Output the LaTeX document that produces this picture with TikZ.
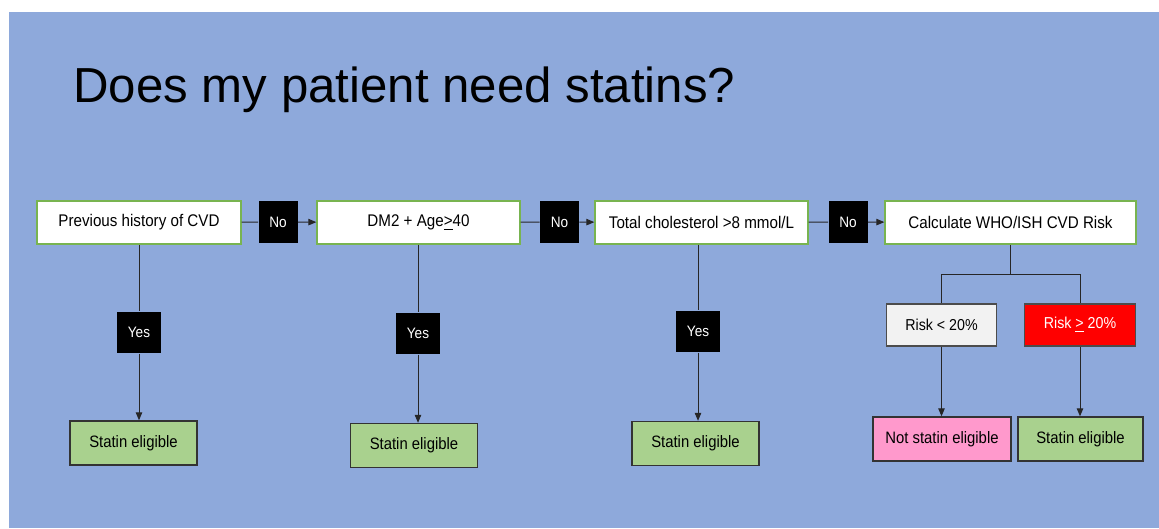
\documentclass[tikz,border=0pt]{standalone}
\usepackage{fontspec}
\setmainfont{Liberation Sans}
\newfontfamily\narrowfont{Liberation Sans}[FakeStretch=0.9]
\usetikzlibrary{arrows.meta}
\definecolor{slideblue}{RGB}{142,169,219}
\definecolor{edgegreen}{RGB}{120,180,80}
\definecolor{leafgreen}{RGB}{169,209,142}
\definecolor{softpink}{RGB}{255,153,204}
\definecolor{alarmred}{RGB}{255,0,0}

\begin{document}
\begin{tikzpicture}[x=0.02cm, y=-0.02cm]
    \tikzset{
      box/.style={
        rectangle, draw=edgegreen, fill=white, line width=0.8pt,
        minimum height=0.86cm, inner sep=2pt,
        font=\narrowfont\fontsize{9.6}{11}\selectfont
      },
      answer/.style={
        rectangle, fill=black, text=white,
        minimum width=0.78cm, minimum height=0.83cm, inner sep=1pt,
        font=\narrowfont\fontsize{8.6}{10}\selectfont
      },
      result/.style={
        rectangle, draw=black!80, fill=leafgreen, line width=0.8pt,
        minimum width=2.54cm, minimum height=0.88cm, inner sep=2pt,
        font=\narrowfont\fontsize{9.4}{11}\selectfont
      },
      risk/.style={
        rectangle, draw=black!70, line width=0.8pt,
        minimum width=2.21cm, minimum height=0.84cm, inner sep=2pt,
        font=\narrowfont\fontsize{9}{11}\selectfont
      },
      link/.style={draw=black!85, line width=0.55pt},
      arrow/.style={link, -{Triangle[length=1.6mm,width=1.3mm]}}
    }

    % Slide
    \useasboundingbox (0,0) rectangle (1159,528);
    \fill[white] (0,0) rectangle (1159,528);
    \fill[slideblue] (9,12) rectangle (1159,528);
    \node[anchor=base west, inner sep=0pt, font=\fontsize{28}{32}\selectfont] (title) at (73,102) {Does my patient need statins?};

    % Row 1
    \node[box, minimum width=4.08cm] (b1) at (139,222.5) {Previous history of CVD};
    \node[answer] (n1) at (278,222) {No};
    \node[box, minimum width=4.06cm] (b2) at (418.5,222.5) {DM2 + Age\underline{>}40};
    \node[answer] (n2) at (559.5,222) {No};
    \node[box, minimum width=4.26cm] (b3) at (701.5,222.5) {Total cholesterol >8 mmol/L};
    \node[answer] (n3) at (848,222) {No};
    \node[box, minimum width=5.02cm] (b4) at (1010.5,222.5) {Calculate WHO/ISH CVD Risk};

    % Yes branches
    \node[answer, minimum width=0.88cm] (y1) at (139,332.5) {Yes};
    \node[answer, minimum width=0.88cm] (y2) at (418,333.5) {Yes};
    \node[answer, minimum width=0.88cm] (y3) at (698,331.5) {Yes};

    % Row 3
    \node[result] (e1) at (133.5,443) {Statin eligible};
    \node[result] (e2) at (414,445.5) {Statin eligible};
    \node[result] (e3) at (695.5,443.5) {Statin eligible};

    % Risk split
    \node[risk, fill=black!5] (r1) at (941.5,325) {Risk < 20\%};
    \node[risk, fill=alarmred, text=white] (r2) at (1080,325) {Risk \underline{>} 20\%};
    \node[result, fill=softpink, minimum width=2.76cm] (e4) at (942,439) {Not statin eligible};
    \node[result, minimum width=2.5cm] (e5) at (1080.5,439) {Statin eligible};
    \coordinate (split) at (1010.5,274);

    % Connectors
    \draw[link] (b1) -- (n1);
    \draw[arrow] (n1) -- (b2);
    \draw[link] (b2) -- (n2);
    \draw[arrow] (n2) -- (b3);
    \draw[link] (b3) -- (n3);
    \draw[arrow] (n3) -- (b4);

    \draw[link] (b1.south -| y1) -- (y1);
    \draw[link] (b2.south -| y2) -- (y2);
    \draw[link] (b3.south -| y3) -- (y3);
    \draw[arrow] (y1) -- (y1.south |- e1.north);
    \draw[arrow] (y2) -- (y2.south |- e2.north);
    \draw[arrow] (y3) -- (y3.south |- e3.north);

    \draw[link] (b4) -- (split) -| (r1);
    \draw[link] (split) -| (r2);
    \draw[arrow] (r1) -- (r1.south |- e4.north);
    \draw[arrow] (r2) -- (r2.south |- e5.north);
  \end{tikzpicture}
\end{document}
